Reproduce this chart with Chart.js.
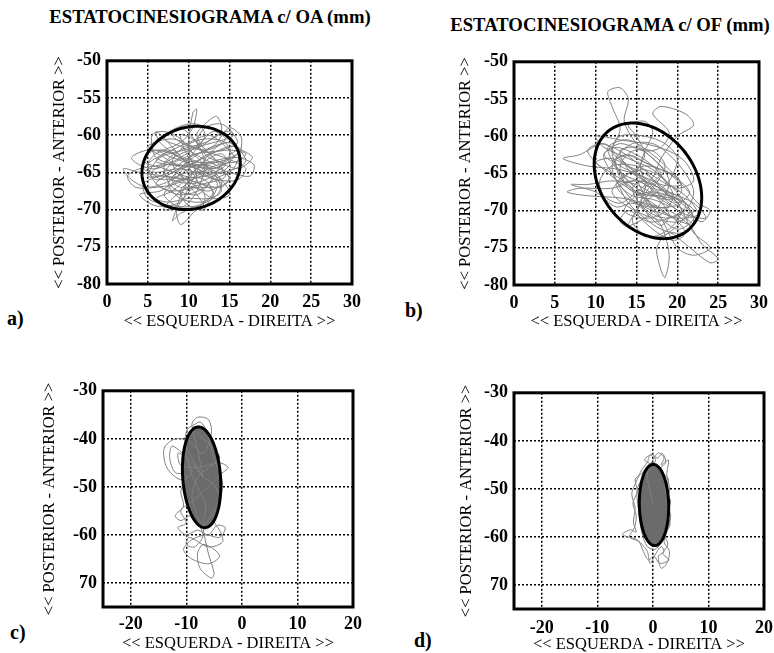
<!DOCTYPE html>
<html>
<head>
<meta charset="utf-8">
<script src="https://cdn.jsdelivr.net/npm/chart.js@4.4.0/dist/chart.umd.min.js"></script>
<style>
  body { margin: 0; background: #fff; width: 774px; height: 653px; position: relative; overflow: hidden; font-family: "Liberation Serif", serif; }
  canvas { position: absolute; }
  .txt { position: absolute; font-weight: bold; white-space: nowrap; line-height: 1; color: #000; }
  .ttl { font-size: 18.7px; transform: translateX(-50%); }
  .lbl { font-size: 20px; }
</style>
</head>
<body>
<div class="txt ttl" style="left:210px;top:8px">ESTATOCINESIOGRAMA c/ OA (mm)</div>
<div class="txt ttl" style="left:610px;top:16px">ESTATOCINESIOGRAMA c/ OF (mm)</div>
<div class="txt lbl" style="left:7px;top:308px">a)</div>
<div class="txt lbl" style="left:405px;top:300px">b)</div>
<div class="txt lbl" style="left:10px;top:622px">c)</div>
<div class="txt lbl" style="left:414px;top:630px">d)</div>
<canvas id="ca"></canvas>
<canvas id="cb"></canvas>
<canvas id="cc"></canvas>
<canvas id="cd"></canvas>
<script>
// tick values / labels
const abXTicks = [0, 5, 10, 15, 20, 25, 30];
const abYTicks = [-80, -75, -70, -65, -60, -55, -50];
const cdXTicks = [-20, -10, 0, 10, 20];
const cdYTicks = [-70, -60, -50, -40, -30];
const cdYLabels = ['70', '-60', '-50', '-40', '-30'];

// a) eyes open, first subject (mm)
const aX = [10,7,5,8,12,15,17,14,11,8, 5,3,2,4,7,10,13,12,9,8, 9,11,10,10.5,11,10.5,9,6,5,6,
  9,12,14,16,17.8,16,13,11,12.5,13.5, 14,12,9,7,8,11,13,15.5,16.5,15, 13,10,7.5,4.5,5,8,11,13.5,14,12,
  9,6,5.5,7,9,11,13,15,14.5,12, 9.5,8,9,11.5,14,15,13,10,7,5.5, 7,10,12.5,15,17,16,13.5,11,9,10,
  12,11,9,6.5,4,6,9,10,11.5,13, 14.5,13,11,9,6,4,3,5,8,11, 14,15,13,11,9,
  12,15,16.5,14,10,7,5,4.5,6,9, 12,14,12.5,10,8,7,9.5,11,12,11, 9,8,10,13,15.5,17,16,13.5,11,8.5,
  6,3.5,2.5,4,6.5,9,11.5,13.5,15,16, 14,11,8.5,7,8,10.5,13,15,14,12, 10,8,6,7.5,10,12.5,14,13,11,9,
  6.5,6,7.5,9.5,11,12,10.5,9,8.5,9.5, 11,13,16,18,17.5,15,12,9,6,5,
  7,10,12.5,14.5,15.5,13,10,8,6,8, 11,13.5,15,14,11.5,9,7,8.5,11,12, 10.5,9,7.5,9,11.5,13,12,9.5,7,4.5,
  5.5,8,11,14,16,15,12,10,8,9, 12,14.5,13,10.5,9,10,12,10,7,5, 6.5,9.5,13,15.5,14,12,11,12.5,14.5,12,
  9,7,9.5,12,13.5,11,8,6,8,10];
const aY = [-65,-63,-61.5,-60.5,-62,-61,-63.5,-65,-64,-66, -67,-66,-64.5,-65,-65.5,-66,-67.5,-69,-70.5,-71.5,
  -69,-66,-62,-57,-56.5,-59,-61,-62.5,-64,-66.5, -68,-67,-64,-62,-63,-64.5,-63,-60,-58,-57.5,
  -59.5,-61,-62,-64,-67,-68,-66,-64.5,-60.5,-59, -61.5,-63,-65,-66.5,-68.5,-69.5,-69.5,-68,-66,-64.5,
  -64,-63,-60,-59.5,-60.5,-63,-64.5,-63,-61,-60.5, -61.5,-63.5,-65.5,-66.5,-67,-65.5,-65,-65,-66,-65,
  -64,-64,-62.5,-62,-62.5,-63.5,-64,-65.5,-67.5,-69.5, -70,-68,-66,-67.5,-68,-69.5,-69,-67,-64,-62,
  -60.5,-59.5,-61.5,-63,-64.5,-64,-63,-62,-62.5,-64.5, -66,-68,-68.5,-67,-65,
  -63,-61.5,-62,-63.5,-63.5,-62,-62.5,-64.5,-65,-64.5, -65.5,-66.5,-67.5,-67,-68.5,-70,-69.5,-67.5,-64,-61,
  -59,-60,-61.5,-62.5,-63.5,-64.5,-66,-66,-65,-66.5, -67,-67,-65.5,-64.5,-64,-62.5,-61.5,-60,-59.5,-61,
  -62,-62.5,-63.5,-65,-66,-66.5,-65.5,-64,-62.5,-63.5, -65.5,-67.5,-68.5,-69,-68.5,-68.5,-67.5,-65,-63.5,-63,
  -61,-59.5,-61,-63.5,-66,-68.5,-70.5,-72,-70,-67, -64.5,-63.5,-63,-64,-65.5,-65,-64,-64.5,-66,-64,
  -62.5,-61,-60,-61.5,-63,-64.5,-64,-65,-66.5,-67.5, -67,-67,-66,-64.5,-63,-61.5,-60.5,-59,-58.5,-60,
  -62.5,-64.5,-66.5,-68.5,-69,-68,-66,-65.5,-64.5,-63.5, -62,-63,-64,-63.5,-62.5,-61,-62,-63.5,-66,-67,
  -66.5,-65.5,-63,-60.5,-60,-63,-65,-66,-65.5,-65.5, -63,-62,-61,-60,-58.5,-59,-61,-63,-64,-65.5,
  -66,-68,-70,-69.5,-66.5,-64.5,-64,-63.5,-62,-64];

// b) eyes closed, first subject (mm)
const bX = [16,13,11,8,6,9,13,17,20,22, 20,17,15,13,12,13,12,11.5,13,14, 13.5,15,17,19,21,22.5,24,23,21,18,
  15,12,8,6.5,9,13,16,19,21.5,23, 25,24,21,19,17.5,18,18.5,19,18,16, 14,12,11,13,16,18,19,17,18,21,
  22,20,18,17,15,13,11,10.5,12,15, 18,20,22,21,19,16,13,10,11,14, 17,19.5,21,19,16.5,14,13,15.5,18,20,
  21.5,20,17,15,13,14.5,17,19,17,15, 16,18,16,14,12,14,17,20,22,24, 22,20,18,16,15,16,15,14,16,17,
  16,15.5,17,19,18,16,14.5,16,
  18,20.5,22,19.5,17,14,11,9,10.5,13, 15.5,18,20,21.5,19,16,13.5,12,14,17, 20,22,20,17.5,15,12.5,11.5,14,17,19,
  20.5,18,16,14,12,13,16,18.5,20,19, 17,15,17,19.5,21,19.5,17,14.5,12.5,10, 7,9,12,15,18,21,23.5,22,19,16,
  14,13,15,17.5,19,18,16,14,15,17, 18.5,17,14.5,13,14,16.5,19,20.5,19,16.5, 14.5,15.5,16,
  13,11,12.5,15,17,19,21,22.5,20,18, 16,14,12,10,12,14.5,16.5,18.5,20.5,19, 16.5,14,12.5,14,16,18,19.5,18,15.5,13.5,
  15,17,19,21,22,20.5,18,16,14,13, 12,13.5,16,18,20,20.5,19,17,15,13, 12.5,14.5,17,19,21,22,21,19,17,15.5,
  16.5,17.5];
const bY = [-66,-63,-61,-62.5,-63,-64,-64.5,-66,-68.5,-71, -72.5,-70,-67,-65,-62,-59,-56,-54,-53.5,-55,
  -58,-61,-63,-65,-67,-69,-70,-71.5,-70,-68, -66,-67,-67,-67.5,-68,-68.3,-69,-70,-72,-74.5,
  -76.5,-77,-74.5,-73,-75,-78,-79,-76,-72,-70, -68,-65,-62.5,-61,-62,-61.5,-59.5,-57,-56,-57,
  -58.5,-60,-63,-65.5,-67.5,-69,-68,-66,-64,-64, -66,-67,-66,-63.5,-62,-61,-60.5,-60,-61.5,-63,
  -64.5,-67,-69.5,-71,-71.5,-70,-71.5,-73,-73.5,-72, -70,-68,-67,-66,-66.5,-68,-68.5,-69.5,-69.5,-68.5,
  -67,-65,-63.5,-62.5,-63.5,-65.5,-66.5,-69,-73,-75, -76,-75,-71,-68,-65,-62.5,-60,-58.5,-58,-59.5,
  -62,-64.5,-67.5,-70.5,-72,-70,-67,-66,
  -68,-70.5,-72,-71,-69,-67,-64.5,-62,-61,-62, -64,-67,-69,-67.5,-65,-64,-65.5,-67.5,-69.5,-71,
  -71.5,-70,-68.5,-68,-67,-64,-61.5,-60.5,-62.5,-64.5, -66.5,-66.5,-65,-64,-62,-60,-60,-61,-63,-66,
  -68,-70,-72.5,-74,-73,-71,-70,-69,-69.5,-67.5, -66.5,-66.5,-66,-66.5,-68.5,-70.5,-71,-69,-67.5,-66,
  -64.5,-62,-61.5,-63.5,-66,-69,-71,-72,-70,-67, -64,-62,-62,-64,-67,-68,-68,-70,-72.5,-73.5, -71.5,-69,-66,
  -64,-62.5,-61.5,-62.5,-64,-66.5,-68,-70.5,-71,-70, -68.5,-66.5,-65,-63.5,-63,-64.5,-66,-67.5,-69,-69.5,
  -69.5,-68.5,-66.5,-65,-64.5,-65.5,-68,-70.5,-71,-70, -68,-67.5,-68,-69,-71.5,-73,-72.5,-71,-69,-67,
  -64,-62.5,-63.5,-64.5,-65.5,-67.5,-68.5,-68,-67.5,-65.5, -63,-61,-61,-62.5,-65,-67.5,-70,-71,-70.5,-69,
  -67,-66];

// c) second subject, outer loops (mm)
const cX = [-7,-8,-9,-8,-6,-5.5,-7,-9.5,-12,-14, -13.5,-11,-9,-10,-11.5,-11,-8,-4,-2.5,-4,
  -6,-9,-11,-10,-11.5,-10,-8,-6,-4.5,-3, -4,-6.5,-9,-10.5,-9,-6,-4,-5,-7,-8,
  -7.5,-5.5,-5,-6,-7,-6.5,-8,-9.5,-10,-8.5, -7,-5,-4,-6,-8,-9,-8,-7,-5,-4, -5.5,-7,
  -9,-12.5,-13,-12,-10,-11,-10.5,-12,-11,-9, -7,-8.5,-10,-9.5,-6,-3.5,-3.8,-5,-4,-3.5,
  -5,-6.5,-7.5,-8.5,-9.8,-10.2,-9,-7];
const cY = [-48,-42,-37,-35.5,-36,-39,-43,-40.5,-40,-42, -46,-48.5,-47,-44,-43,-45.5,-46,-45,-46,-47.5,
  -50,-53,-55,-57.5,-58.5,-60,-59,-60,-58,-58.5, -60.5,-60,-61,-63,-65,-66,-64.5,-63,-62,-64,
  -67,-69,-68,-64,-58,-54,-50,-46,-41,-38.5, -40,-42,-44,-46,-48,-52,-56,-58,-55,-52, -49,-48,
  -45,-41.5,-44,-47,-47.5,-51,-54,-56,-57,-56, -60,-62.5,-62,-60.5,-62.5,-61.5,-59.5,-57,-53,-49,
  -44,-38,-36.5,-37,-38,-41,-44,-48];

// d) second subject, outer loops (mm)
const dX = [0,-1,0,1,2,1.5,2.8,2.5,3,2.5, 3.2,2.8,2,3,2.5,1.5,1,2,1.5,0.5,
  -0.5,-1,-2,-3,-5.5,-4,-3,-3.5,-3.2,-3.8, -3,-2,-1,-0.5,0.5,-0.8,-2.8,-2.5,-2,-1, 0.5,2,2.8,2.5,1.5,0,
  -1.5,-0.2,0.8,1.7,2.3,1.2,2.8,2.2,3.2,2.6, 3.1,2,2.7,1.8,2.9,1.2,0.2,-0.8,-1.8,-2.5,
  -4.2,-3.3,-3,-3.6,-2.8,-3.2,-2.2,-1,0];
const dY = [-53,-47,-44,-42.5,-43.5,-45,-44,-47,-50,-53, -55.5,-58,-61,-63,-65.5,-66.5,-64,-63,-62,-63.5,
  -65.5,-63,-61.5,-60.5,-59.5,-58.5,-59,-57,-54,-51, -48.5,-46,-44.5,-43,-44,-46,-50,-55,-59,-62,
  -62.5,-60,-56,-51,-46,-45,
  -44,-42.8,-43.6,-42.6,-44.5,-46,-48,-50.5,-52.5,-55, -57.5,-59.5,-61.5,-63.5,-64.8,-65.5,-64,-64.8,-62.8,-61,
  -60,-58,-55.5,-53,-50.5,-48,-47,-45.5,-45];

// confidence ellipses: cx, cy, semi-axis 1, semi-axis 2, angle (deg)
const ellA = [10.3, -64.4, 6.2, 5.4, 29];
const ellB = [16.4, -66.0, 8.3, 5.9, -60];
const ellC = [-7.25, -48.0, 10.5, 3.4, 93.5];
const ellD = [0.2, -53.35, 8.45, 2.64, 91];

const FONT = '"Liberation Serif", "Times New Roman", serif';
Chart.defaults.font.family = FONT;

function ellipsePath(chart, e) {
  const ctx = chart.ctx, sx = chart.scales.x, sy = chart.scales.y;
  const th = e[4] * Math.PI / 180;
  ctx.beginPath();
  for (let i = 0; i <= 160; i++) {
    const t = i / 160 * 2 * Math.PI;
    const u = e[2] * Math.cos(t), v = e[3] * Math.sin(t);
    const px = sx.getPixelForValue(e[0] + u * Math.cos(th) - v * Math.sin(th));
    const py = sy.getPixelForValue(e[1] + u * Math.sin(th) + v * Math.cos(th));
    if (i) ctx.lineTo(px, py); else ctx.moveTo(px, py);
  }
  ctx.closePath();
}

const ellipsePlugin = {
  id: 'ellipse',
  beforeDatasetsDraw(chart, args, opts) {
    if (!opts.fill) return;
    const ctx = chart.ctx;
    ctx.save();
    ellipsePath(chart, opts.e);
    ctx.fillStyle = opts.fill;
    ctx.fill();
    ctx.restore();
  },
  afterDatasetsDraw(chart, args, opts) {
    const ctx = chart.ctx, a = chart.chartArea;
    ctx.save();
    ellipsePath(chart, opts.e);
    ctx.lineWidth = 3;
    ctx.strokeStyle = '#000';
    ctx.stroke();
    ctx.strokeRect(a.left, a.top, a.right - a.left, a.bottom - a.top);
    ctx.restore();
  }
};

function makePanel(id, g, xs, ys, ell, fill, xr, yr, xt, yt, yLabels) {
  const cv = document.getElementById(id);
  const yw = 70, xh = 50, padT = 15, padR = 20;
  cv.width = yw + (g.R - g.L) + padR;
  cv.height = padT + (g.B - g.T) + xh;
  cv.style.left = (g.L - yw) + 'px';
  cv.style.top = (g.T - padT) + 'px';
  const pts = xs.map((x, i) => ({ x: x, y: ys[i] }));
  return new Chart(cv, {
    type: 'scatter',
    data: {
      datasets: [{
        data: pts,
        showLine: true,
        borderColor: '#808080',
        borderWidth: 1,
        pointRadius: 0,
        tension: 0.3
      }]
    },
    options: {
      responsive: false,
      animation: false,
      layout: { padding: { top: padT, right: padR, left: 0, bottom: 0 } },
      plugins: {
        legend: { display: false },
        tooltip: { enabled: false },
        ellipse: { e: ell, fill: fill }
      },
      scales: {
        x: {
          type: 'linear', min: xr[0], max: xr[1],
          afterBuildTicks: s => { s.ticks = xt.map(v => ({ value: v })); },
          afterFit: s => { s.height = xh; },
          ticks: {
            autoSkip: false, maxRotation: 0, padding: g.xlp, color: '#000',
            font: { family: FONT, size: 18, weight: 'bold' },
            callback: (v, i) => String(xt[i])
          },
          grid: { color: '#000', lineWidth: 1.5, drawTicks: false },
          border: { display: false, dash: [2, 2] },
          title: {
            display: true, text: '<< ESQUERDA - DIREITA >>', color: '#000',
            font: { family: FONT, size: 16.5 }, padding: { top: 0, bottom: g.xtp }
          }
        },
        y: {
          type: 'linear', min: yr[0], max: yr[1],
          afterBuildTicks: s => { s.ticks = yt.map(v => ({ value: v })); },
          afterFit: s => { s.width = yw; },
          ticks: {
            autoSkip: false, padding: 6, color: '#000',
            font: { family: FONT, size: 18, weight: 'bold' },
            callback: (v, i) => yLabels ? yLabels[i] : String(yt[i])
          },
          grid: { color: '#000', lineWidth: 1.5, drawTicks: false },
          border: { display: false, dash: [2, 2] },
          title: {
            display: true, text: '<< POSTERIOR - ANTERIOR >>', color: '#000',
            font: { family: FONT, size: 16.5 }, padding: { top: g.ytp, bottom: 0 }
          }
        }
      }
    },
    plugins: [ellipsePlugin]
  });
}

function drawAll() {
  makePanel('ca', { L: 107, R: 352, T: 59, B: 284, ytp: 13, xtp: 2, xlp: 8 }, aX, aY, ellA, null, [0, 30], [-80, -50], abXTicks, abYTicks);
  makePanel('cb', { L: 514, R: 759, T: 60, B: 285, ytp: 12, xtp: 3, xlp: 8 }, bX, bY, ellB, null, [0, 30], [-80, -50], abXTicks, abYTicks);
  makePanel('cc', { L: 103, R: 353, T: 389, B: 607, ytp: 7, xtp: 3, xlp: 7 }, cX, cY, ellC, '#6b6b6b', [-25, 20], [-75, -30], cdXTicks, cdYTicks, cdYLabels);
  makePanel('cd', { L: 514, R: 764, T: 391, B: 609, ytp: 13, xtp: 4, xlp: 9 }, dX, dY, ellD, '#6b6b6b', [-25, 20], [-75, -30], cdXTicks, cdYTicks, cdYLabels);
}

Promise.all([
  document.fonts.load('bold 18px "Liberation Serif"'),
  document.fonts.load('16.5px "Liberation Serif"')
]).then(drawAll, drawAll);
</script>
</body>
</html>
